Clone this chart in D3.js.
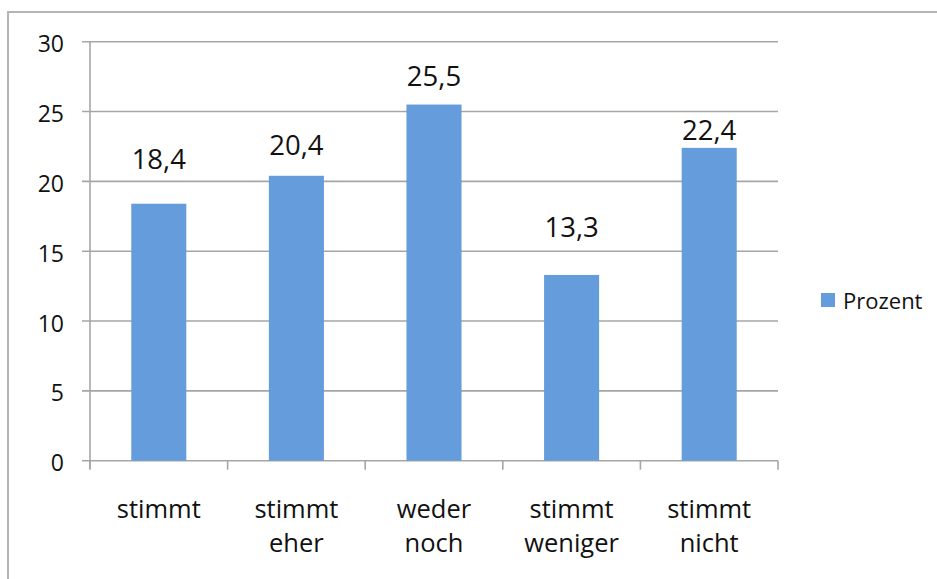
<!DOCTYPE html>
<html>
<head>
<meta charset="utf-8">
<script src="https://cdn.jsdelivr.net/npm/d3@7"></script>
<style>
  html, body { margin: 0; padding: 0; background: #fff; }
  svg { display: block; }
  text { font-family: "Open Sans", "Noto Sans", sans-serif; fill: #111; }
</style>
</head>
<body>
<svg id="chart" width="937" height="579"></svg>
<script>
// Survey answers and their share in percent
const categories = [["stimmt"], ["stimmt", "eher"], ["weder", "noch"], ["stimmt", "weniger"], ["stimmt", "nicht"]];
const values = [18.4, 20.4, 25.5, 13.3, 22.4];
const valueLabels = ["18,4", "20,4", "25,5", "13,3", "22,4"];
const yTicks = [0, 5, 10, 15, 20, 25, 30];
const seriesName = "Prozent";

// Vertical lift of each value label above its bar (px)
const labelLift = [35, 21, 18.5, 38, 8];

const svg = d3.select("#chart");
const plot = { left: 90, right: 778, top: 41.7, bottom: 460.7 };
const barColor = "#659cdc";
const gridColor = "#a6a6a6";

// Outer chart frame
svg.append("rect")
  .attr("x", 8).attr("y", 12).attr("width", 960).attr("height", 600)
  .attr("fill", "none").attr("stroke", "#b4b4b4").attr("stroke-width", 2);

const x = d3.scaleBand().domain(d3.range(values.length)).range([plot.left, plot.right]).padding(0);
const y = d3.scaleLinear().domain([0, 30]).range([plot.bottom, plot.top]);

// Horizontal gridlines
svg.append("g").selectAll("line").data(yTicks).join("line")
  .attr("x1", plot.left - 8).attr("x2", plot.right)
  .attr("y1", d => y(d)).attr("y2", d => y(d))
  .attr("stroke", gridColor).attr("stroke-width", 1.6);

// Y axis line
svg.append("line")
  .attr("x1", plot.left).attr("x2", plot.left).attr("y1", plot.top).attr("y2", plot.bottom + 8)
  .attr("stroke", gridColor).attr("stroke-width", 1.6);

// Category tick marks on the x axis
svg.append("g").selectAll("line").data(d3.range(values.length + 1)).join("line")
  .attr("x1", i => plot.left + i * x.step()).attr("x2", i => plot.left + i * x.step())
  .attr("y1", plot.bottom).attr("y2", plot.bottom + 9)
  .attr("stroke", gridColor).attr("stroke-width", 1.6);

// Y tick labels
svg.append("g").selectAll("text").data(yTicks).join("text")
  .attr("x", 64).attr("y", d => y(d) + 10.5)
  .attr("text-anchor", "end").attr("font-size", 23)
  .text(d => d);

// Bars
const barW = x.bandwidth() * 0.4;
svg.append("g").selectAll("rect").data(values).join("rect")
  .attr("x", (d, i) => x(i) + (x.bandwidth() - barW) / 2)
  .attr("y", d => y(d))
  .attr("width", barW)
  .attr("height", d => y(0) - y(d))
  .attr("fill", barColor);

// Value labels
svg.append("g").selectAll("text").data(values).join("text")
  .attr("x", (d, i) => x(i) + x.bandwidth() / 2)
  .attr("y", (d, i) => y(d) - labelLift[i])
  .attr("text-anchor", "middle").attr("font-size", 27.5)
  .text((d, i) => valueLabels[i]);

// Category labels (two lines where needed)
const cat = svg.append("g").selectAll("text").data(categories).join("text")
  .attr("text-anchor", "middle").attr("font-size", 25.5);
cat.selectAll("tspan").data((d, i) => d.map(s => ({ s, i }))).join("tspan")
  .attr("x", d => x(d.i) + x.bandwidth() / 2)
  .attr("y", (d, j) => 518 + j * 34)
  .text(d => d.s);

// Legend
const lg = svg.append("g").attr("transform", "translate(821,293)");
lg.append("rect").attr("width", 14).attr("height", 14).attr("fill", barColor);
lg.append("text").attr("x", 22).attr("y", 16).attr("font-size", 22).text(seriesName);
</script>
</body>
</html>
